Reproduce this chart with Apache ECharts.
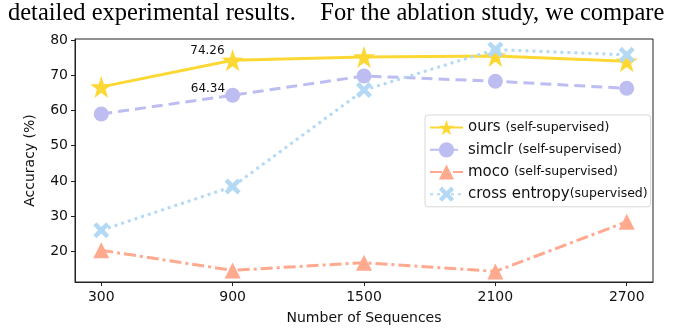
<!DOCTYPE html>
<html>
<head>
<meta charset="utf-8">
<script src="https://cdn.jsdelivr.net/npm/echarts@6/dist/echarts.min.js"></script>
<style>
  html, body { margin: 0; padding: 0; background: #fff; }
  #chart { width: 675px; height: 330px; }
</style>
</head>
<body>
<div id="chart"></div>
<script>
// data
var sequences = [300, 900, 1500, 2100, 2700]
var yTicks = [20, 30, 40, 50, 60, 70, 80]
var ours = [66.7, 74.26, 75.2, 75.5, 74.0]
var simclr = [59.0, 64.34, 69.8, 68.3, 66.3]
var moco = [20.3, 14.6, 16.8, 14.3, 28.4]
var crossEntropy = [26.0, 38.4, 65.8, 77.3, 75.8]

var font = 'DejaVu Sans'
// filled "X" marker like matplotlib's 'X'
var xMarker = 'path://M2,0 L5,3 L8,0 L10,2 L7,5 L10,8 L8,10 L5,7 L2,10 L0,8 L3,5 L0,2 Z'

function pairs (ys, labelled) {
  return ys.map(function (y, i) {
    var item = { value: [sequences[i], y] }
    if (labelled && i === 1) {
      item.label = labelled
    }
    return item
  })
}

var chart = echarts.init(document.getElementById('chart'))
var option = {
  animation: false,
  backgroundColor: '#fff',
  textStyle: { fontFamily: font },
  graphic: [{
    type: 'text',
    left: 8,
    top: 1,
    style: {
      text: 'detailed experimental results.    For the ablation study, we compare',
      font: '24.5px "Liberation Serif"',
      fill: '#000'
    }
  }],
  grid: {
    left: 75, right: 22, top: 39, bottom: 46,
    show: true, borderColor: '#222', borderWidth: 1, backgroundColor: 'transparent'
  },
  legend: {
    orient: 'vertical',
    left: 425,
    top: 115,
    itemWidth: 33,
    itemHeight: 19,
    itemGap: 7,
    padding: [5, 3, 5, 4],
    borderColor: '#d8d8d8',
    borderWidth: 1,
    borderRadius: 3,
    backgroundColor: 'rgba(255,255,255,0.8)',
    formatter: function (name) {
      var parts = name.split('|')
      return '{a|' + parts[0] + '}{b|' + parts[1] + '}'
    },
    textStyle: {
      rich: {
        a: { fontSize: 15, fontFamily: font, color: '#111' },
        b: { fontSize: 12.5, fontFamily: font, color: '#111' }
      }
    }
  },
  xAxis: {
    type: 'value',
    min: 180,
    max: 2820,
    name: 'Number of Sequences',
    nameLocation: 'middle',
    nameGap: 29,
    nameTextStyle: { fontSize: 14, color: '#111' },
    splitLine: { show: false },
    axisLine: { show: true, lineStyle: { color: '#222', width: 1 } },
    axisTick: { show: true, customValues: sequences, length: 4, lineStyle: { color: '#222' } },
    axisLabel: {
      customValues: sequences, fontSize: 14, color: '#111', margin: 8,
      formatter: function (v) { return String(v) }
    }
  },
  yAxis: {
    type: 'value',
    min: 11.3,
    max: 80.3,
    name: 'Accuracy (%)',
    nameLocation: 'middle',
    nameGap: 38,
    nameTextStyle: { fontSize: 14, color: '#111' },
    splitLine: { show: false },
    axisLine: { show: true, lineStyle: { color: '#222', width: 1 } },
    axisTick: { show: true, customValues: yTicks, length: 4, lineStyle: { color: '#222' } },
    axisLabel: { customValues: yTicks, fontSize: 14, color: '#111', margin: 7 }
  },
  series: [{
    name: 'ours |(self-supervised)',
    type: 'line',
    data: pairs(ours, {
      show: true, position: 'left', distance: 0, offset: [3, -9],
      formatter: '74.26', fontSize: 12, color: '#111'
    }),
    symbol: 'path://M50,0 L61.8,35.1 L98.9,35.5 L69.1,57.7 L80.2,93 L50,71.5 L19.8,93 L30.9,57.7 L1.1,35.5 L38.2,35.1 Z',
    symbolSize: 22,
    z: 4,
    lineStyle: { color: '#fdd835', width: 3 },
    itemStyle: { color: '#fdd835' }
  }, {
    name: 'simclr |(self-supervised)',
    type: 'line',
    data: pairs(simclr, {
      show: true, position: 'left', distance: 0, offset: [0, -6],
      formatter: '64.34', fontSize: 12, color: '#111'
    }),
    symbol: 'circle',
    symbolSize: 15,
    z: 3,
    lineStyle: { color: '#bdbdf2', width: 3, type: [11, 6] },
    itemStyle: { color: '#bdbdf2' }
  }, {
    name: 'moco |(self-supervised)',
    type: 'line',
    data: pairs(moco),
    symbol: 'triangle',
    symbolSize: 16,
    z: 2,
    lineStyle: { color: '#ffa98f', width: 3, type: [12, 4, 3, 4] },
    itemStyle: { color: '#ffa98f' }
  }, {
    name: 'cross entropy|(supervised)',
    type: 'line',
    data: pairs(crossEntropy),
    symbol: xMarker,
    symbolSize: 16,
    z: 5,
    lineStyle: { color: '#b3d9f5', width: 3, type: [3, 4] },
    itemStyle: { color: '#b3d9f5' }
  }]
}
chart.setOption(option)
</script>
</body>
</html>
